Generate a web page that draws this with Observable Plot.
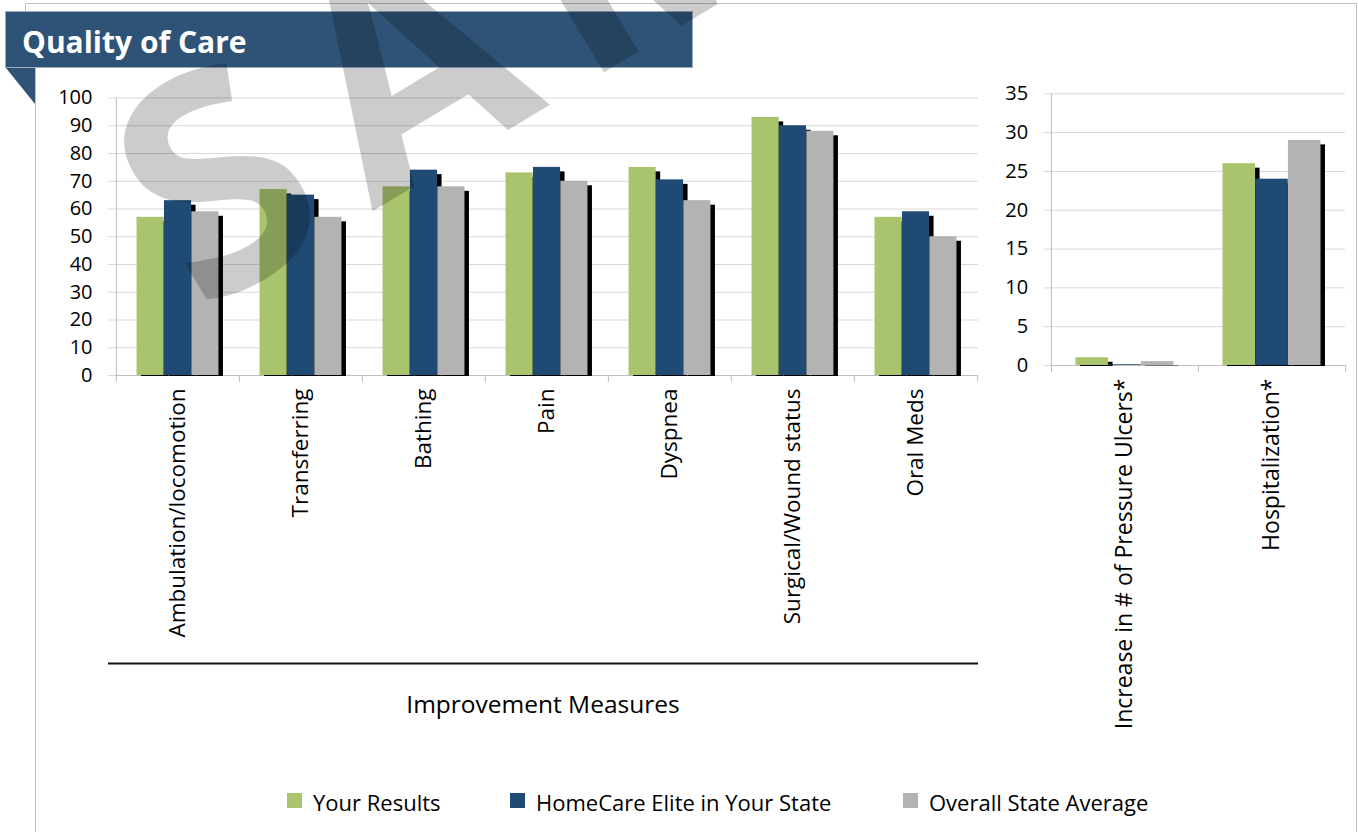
<!DOCTYPE html>
<html><head><meta charset="utf-8">
<script src="https://cdn.jsdelivr.net/npm/d3@7"></script>
<script src="https://cdn.jsdelivr.net/npm/@observablehq/plot@0.6"></script>
<style>
body{margin:0;background:#fff;font-family:"Open Sans",sans-serif;}
#wrap{position:relative;width:1358px;height:832px;overflow:hidden;background:#fff;}
.abs{position:absolute;}
</style></head><body><div id="wrap"></div>
<script>
// ---- data ----
const improvementCategories = ["Ambulation/locomotion","Transferring","Bathing","Pain","Dyspnea","Surgical/Wound status","Oral Meds"];
const improvementYourResults   = [57, 67, 68, 73, 75,   93, 57];
const improvementHomeCareElite = [63, 65, 74, 75, 70.5, 90, 59];
const improvementStateAverage  = [59, 57, 68, 70, 63,   88, 50];
const outcomeCategories = ["Increase in # of Pressure Ulcers*","Hospitalization*"];
const outcomeYourResults   = [1, 26];
const outcomeHomeCareElite = [0.1, 24];
const outcomeStateAverage  = [0.5, 29];
const seriesNames  = ["Your Results","HomeCare Elite in Your State","Overall State Average"];
const seriesColors = ["#a9c46c","#1f4a74","#b3b3b3"];
const improvementTicks = [0,10,20,30,40,50,60,70,80,90,100];
const outcomeTicks = [0,5,10,15,20,25,30,35];
const titleText = "Quality of Care";
const axisTitle = "Improvement Measures";
const watermarkText = "SAMPLE";

const wrap = document.getElementById("wrap");
const GRID = "#d9d9d9", AXIS = "#bfbfbf";

function groupedChart({cats, series, domain, ticks, width, height, mt, mb, ml, mr, labelSize}) {
  const step = (width - ml - mr) / cats.length;
  const barW = step * 2 / 9, outer = step / 6, sh = 4.5;
  const rows = series.map((vals, i) => cats.map((c, j) => ({cat: c, value: vals[j], s: seriesNames[i]})));
  const marks = [
    Plot.ruleY(ticks, {stroke: GRID, insetLeft: -7}),
    Plot.ruleY([0], {stroke: AXIS}),
  ];
  rows.forEach((r, i) => {
    const left = outer + i * barW;
    marks.push(Plot.barY(r, {x: "cat", y: "value", fill: "#000",
      insetLeft: left + sh, insetRight: step - left - barW - sh, insetTop: sh, insetBottom: -1}));
    marks.push(Plot.barY(r, {x: "cat", y: "value", fill: seriesColors[i],
      insetLeft: left, insetRight: step - left - barW}));
  });
  marks.push(
    Plot.ruleX([cats[0]], {x: d => d, dx: -step / 2, stroke: AXIS, insetBottom: -7}),
    Plot.ruleX(cats.slice(1), {x: d => d, dx: -step / 2, y1: 0, y2: 0, stroke: AXIS, insetBottom: -7}),
    Plot.ruleX([cats[cats.length - 1]], {x: d => d, dx: step / 2, y1: 0, y2: 0, stroke: AXIS, insetBottom: -7}),
    Plot.axisY({ticks, tickSize: 0, tickPadding: 23, fontSize: 20, label: null}),
    Plot.axisX({tickSize: 0, tickPadding: 13, tickRotate: -90, fontSize: labelSize, label: null})
  );
  return Plot.plot({
    width, height, marginTop: mt, marginBottom: mb, marginLeft: ml, marginRight: mr,
    x: {type: "band", domain: cats, padding: 0},
    y: {domain, ticks},
    style: {fontFamily: "Open Sans", color: "#000", background: "transparent", overflow: "visible"},
    marks
  });
}

// left chart
const left = groupedChart({
  cats: improvementCategories,
  series: [improvementYourResults, improvementHomeCareElite, improvementStateAverage],
  domain: [0, 100], ticks: improvementTicks,
  width: 985, height: 832, mt: 97.5, mb: 832 - 375, ml: 115, mr: 7, labelSize: 22.5
});
left.classList.add("abs"); left.style.left = "0px"; left.style.top = "0px";
wrap.appendChild(left);

// right chart
const right = groupedChart({
  cats: outcomeCategories,
  series: [outcomeYourResults, outcomeHomeCareElite, outcomeStateAverage],
  domain: [0, 35], ticks: outcomeTicks,
  width: 373, height: 832, mt: 93.3, mb: 832 - 365, ml: 65.7, mr: 13, labelSize: 23
});
right.classList.add("abs"); right.style.left = "985px"; right.style.top = "0px";
wrap.appendChild(right);

// frame lines, banner, triangle, category group line
const deco = document.createElementNS("http://www.w3.org/2000/svg", "svg");
deco.setAttribute("width", 1358); deco.setAttribute("height", 832);
deco.classList.add("abs"); deco.style.left = "0px"; deco.style.top = "0px"; deco.style.pointerEvents = "none";
deco.innerHTML = `
  <g stroke="#bfbfbf" stroke-width="1" fill="none">
    <path d="M25.5,11 V3.5 H1356.5 V832"/>
    <path d="M35.5,68 V832"/>
  </g>
  <rect x="5.5" y="11.5" width="687" height="56" fill="#2f5377" stroke="#9aabbd" stroke-width="1"/>
  <polygon points="6,68 35,68 35,104" fill="#2f5377"/>
  <text x="22" y="53" fill="#fff" font-family="Open Sans" font-weight="700" font-size="30">${titleText}</text>
  <line x1="108" x2="978" y1="663.5" y2="663.5" stroke="#111" stroke-width="2"/>
  <text x="543" y="713" text-anchor="middle" font-family="Open Sans" font-size="24.5" fill="#000">${axisTitle}</text>
`;
wrap.appendChild(deco);

// legend
const legX = [287, 510, 903];
seriesNames.forEach((n, i) => {
  const sq = document.createElement("div");
  sq.className = "abs";
  Object.assign(sq.style, {left: legX[i] + "px", top: "793px", width: "15px", height: "15px", background: seriesColors[i]});
  wrap.appendChild(sq);
  const t = document.createElement("div");
  t.className = "abs";
  t.textContent = n;
  Object.assign(t.style, {left: (legX[i] + 26) + "px", top: "786px", fontSize: "22px", lineHeight: "32px", color: "#000", whiteSpace: "nowrap"});
  wrap.appendChild(t);
});

// watermark
const wm = document.createElementNS("http://www.w3.org/2000/svg", "svg");
wm.setAttribute("width", 1358); wm.setAttribute("height", 832);
wm.classList.add("abs"); wm.style.left = "0px"; wm.style.top = "0px"; wm.style.pointerEvents = "none";
wm.innerHTML = `<text transform="translate(200,315) rotate(-31)" font-family="Open Sans" font-weight="700" font-size="300" letter-spacing="36" fill="#000" fill-opacity="0.2">${watermarkText}</text>`;
wrap.appendChild(wm);
</script></body></html>
